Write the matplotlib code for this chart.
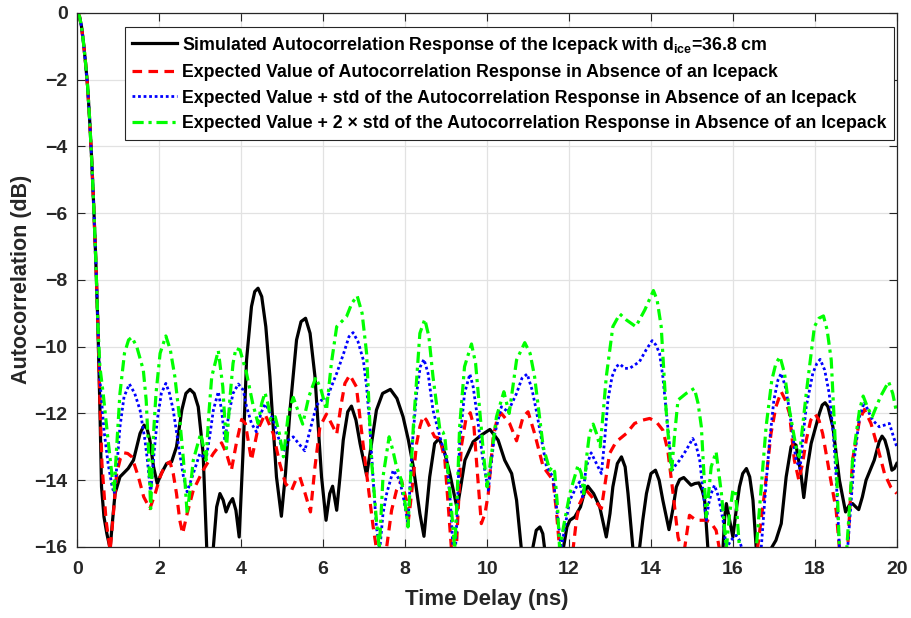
import matplotlib
matplotlib.use("Agg")
import matplotlib.pyplot as plt

# ---- data ----
sim_t = [0, 0.05, 0.1, 0.15, 0.2, 0.25, 0.3, 0.35, 0.4, 0.45, 0.5,
         0.55, 0.59, 0.65, 0.72, 0.8, 0.86, 0.92, 1.04, 1.24, 1.37, 1.53, 1.63, 1.7, 1.77, 1.86, 1.95,
         2.05, 2.18, 2.3, 2.42, 2.55, 2.65, 2.75, 2.85, 2.95, 3.07, 3.16, 3.24, 3.32, 3.4, 3.48, 3.56,
         3.63, 3.71, 3.79, 3.87, 3.95, 4.05, 4.13, 4.25, 4.33, 4.41, 4.5, 4.6, 4.7, 4.86, 4.98, 5.08,
         5.19, 5.35, 5.46, 5.57, 5.68, 5.8, 5.96, 6.07, 6.16, 6.23, 6.33, 6.41, 6.49, 6.6, 6.69, 6.8,
         6.9, 7.06, 7.18, 7.3, 7.45, 7.64, 7.8, 7.95, 8.08, 8.2, 8.36, 8.46, 8.53, 8.6, 8.72, 8.83,
         8.97, 9.09, 9.27, 9.37, 9.46, 9.66, 9.86, 10.07, 10.27, 10.43, 10.6, 10.72, 10.84, 10.98,
         11.12, 11.2, 11.29, 11.36, 11.41, 11.6, 11.86, 11.95, 12.02, 12.14, 12.28, 12.38, 12.46,
         12.6, 12.75, 12.91, 13.0, 13.07, 13.18, 13.28, 13.37, 13.44, 13.56, 13.64, 13.72, 13.8,
         13.89, 14.0, 14.11, 14.2, 14.29, 14.44, 14.53, 14.62, 14.7, 14.8, 14.9, 14.98, 15.07, 15.17,
         15.25, 15.31, 15.39, 15.58, 15.76, 15.8, 15.84, 15.92, 16.0, 16.08, 16.16, 16.24, 16.33,
         16.41, 16.49, 16.57, 16.75, 16.93, 17.05, 17.18, 17.3, 17.42, 17.48, 17.54, 17.66, 17.73,
         17.82, 17.91, 18.11, 18.18, 18.25, 18.32, 18.44, 18.6, 18.75, 18.84, 18.92, 19.0, 19.07,
         19.16, 19.25, 19.45, 19.57, 19.64, 19.71, 19.78, 19.88, 19.94, 20.0]
sim_db = [0, -0.1, -0.4, -0.9, -1.5, -2.2, -3.2, -4.4, -5.8, -7.4, -9.3,
          -11.8, -14.2, -15.1, -15.6, -16.05, -15.2, -14.4, -13.9, -13.65, -13.4, -12.6, -12.35, -12.45,
          -12.8, -13.6, -14.1, -13.8, -13.5, -13.45, -13.0, -11.9, -11.4, -11.28, -11.4, -11.8, -13.2,
          -16.1, -17.5, -16.0, -14.8, -14.4, -14.6, -14.95, -14.7, -14.55, -14.9, -15.7, -13.0, -10.4,
          -8.8, -8.35, -8.25, -8.5, -9.4, -10.9, -13.9, -15.08, -13.8, -11.9, -9.8, -9.25, -9.15, -9.6,
          -10.9, -13.9, -15.2, -14.4, -14.18, -14.9, -13.9, -12.8, -11.95, -11.78, -12.2, -12.9, -13.85,
          -12.9, -11.9, -11.4, -11.28, -11.55, -12.1, -12.8, -13.6, -15.0, -15.68, -14.8, -13.9, -12.9,
          -12.75, -13.2, -13.8, -14.85, -14.1, -13.4, -12.85, -12.65, -12.48, -12.8, -13.4, -13.8, -14.6,
          -16.1, -17.5, -16.0, -15.5, -15.4, -15.6, -16.1, -17.5, -16.05, -15.4, -15.2, -15.1, -14.8,
          -14.35, -14.18, -14.4, -14.8, -15.7, -15.0, -14.2, -13.5, -13.3, -13.6, -14.4, -16.05, -17.0,
          -16.05, -15.2, -14.4, -13.8, -13.7, -14.0, -14.6, -15.48, -14.9, -14.2, -13.98, -13.92, -14.05,
          -14.15, -14.1, -14.08, -14.3, -14.6, -16.05, -17.5, -16.0, -15.1, -14.7, -15.2, -15.7, -14.9,
          -14.2, -13.8, -13.65, -13.9, -14.6, -16.05, -17.5, -16.05, -15.8, -15.3, -13.9, -13.0, -12.9,
          -12.95, -13.8, -14.52, -13.6, -12.9, -12.0, -11.75, -11.68, -11.8, -12.4, -14.0, -14.95, -14.75,
          -14.7, -14.8, -14.88, -14.5, -14.0, -13.4, -12.85, -12.68, -12.8, -13.1, -13.7, -13.65, -13.5]

mean_t = [0, 0.05, 0.1, 0.15, 0.2, 0.25, 0.3, 0.35, 0.4, 0.45, 0.5,
          0.55, 0.6, 0.7, 0.8, 0.88, 0.96, 1.05, 1.14, 1.23, 1.33, 1.49, 1.62, 1.77, 1.9, 2.02, 2.14,
          2.26, 2.34, 2.42, 2.5, 2.57, 2.68, 2.83, 3.07, 3.32, 3.52, 3.64, 3.76, 3.88, 4.01, 4.1, 4.25,
          4.4, 4.58, 4.78, 4.94, 5.08, 5.23, 5.33, 5.43, 5.56, 5.69, 5.8, 5.92, 6.08, 6.2, 6.33, 6.43,
          6.53, 6.65, 6.81, 7.02, 7.22, 7.3, 7.42, 7.55, 7.67, 7.79, 7.91, 8.03, 8.07, 8.13, 8.2, 8.28,
          8.36, 8.44, 8.52, 8.6, 8.72, 8.85, 8.97, 9.09, 9.13, 9.19, 9.25, 9.37, 9.48, 9.59, 9.68, 9.74,
          9.86, 9.95, 10.03, 10.15, 10.25, 10.35, 10.55, 10.72, 10.88, 11.0, 11.16, 11.37, 11.55, 11.61,
          11.69, 11.77, 11.93, 12.1, 12.18, 12.26, 12.42, 12.63, 12.79, 12.99, 13.15, 13.4, 13.6, 13.8,
          13.97, 14.13, 14.29, 14.41, 14.54, 14.66, 14.74, 14.78, 14.82, 14.94, 15.1, 15.35, 15.45,
          15.59, 15.67, 16.1, 16.6, 16.77, 16.93, 17.05, 17.18, 17.28, 17.38, 17.5, 17.61, 17.7, 17.79,
          17.9, 18.01, 18.1, 18.19, 18.36, 18.52, 18.6, 18.7, 18.8, 18.92, 19.09, 19.21, 19.37, 19.53,
          19.7, 19.85, 20.0]
mean_db = [0, -0.1, -0.4, -0.9, -1.5, -2.2, -3.2, -4.4, -5.8, -7.4, -9.3,
           -11.6, -13.5, -15.2, -16.1, -15.0, -13.8, -13.35, -13.18, -13.2, -13.3, -13.9, -14.5, -14.85,
           -14.4, -13.9, -13.55, -13.45, -13.8, -14.4, -15.2, -15.6, -15.0, -14.3, -13.7, -13.2, -12.88,
           -13.2, -13.7, -12.9, -12.18, -12.3, -13.4, -12.5, -12.02, -12.6, -13.5, -14.1, -14.3, -14.0,
           -13.9, -14.4, -14.95, -13.6, -12.4, -12.02, -12.3, -12.62, -11.8, -11.1, -10.85, -11.2, -13.4,
           -15.4, -16.05, -17.0, -16.0, -14.9, -14.3, -14.0, -14.6, -15.3, -14.7, -13.9, -12.9, -12.4,
           -12.08, -12.2, -12.4, -12.7, -12.75, -13.4, -15.4, -16.05, -16.5, -16.05, -13.0, -12.2, -11.98,
           -12.4, -13.4, -15.3, -15.0, -14.4, -12.7, -12.15, -12.0, -12.3, -12.82, -12.1, -11.95, -12.6,
           -13.6, -13.9, -14.0, -14.9, -16.05, -17.0, -16.05, -15.2, -14.7, -14.3, -14.6, -14.85, -13.2,
           -12.85, -12.6, -12.3, -12.2, -12.15, -12.25, -12.5, -13.1, -14.4, -15.7, -16.05, -16.3, -16.05,
           -15.05, -15.2, -15.2, -15.25, -15.5, -16.05, -17.5, -16.05, -14.4, -12.6, -11.8, -11.35, -11.6,
           -12.0, -13.4, -14.0, -13.5, -12.8, -12.2, -12.02, -12.2, -12.6, -13.8, -14.9, -16.05, -17.0,
           -16.05, -13.4, -12.2, -11.88, -12.3, -13.0, -13.8, -14.2, -14.4]

std1_t = [0, 0.05, 0.1, 0.15, 0.2, 0.25, 0.3, 0.35, 0.4, 0.45, 0.5,
          0.55, 0.65, 0.75, 0.85, 0.9, 0.97, 1.04, 1.14, 1.27, 1.4, 1.53, 1.65, 1.71, 1.79, 1.87, 1.95,
          2.05, 2.16, 2.25, 2.34, 2.5, 2.59, 2.68, 2.83, 2.99, 3.07, 3.14, 3.24, 3.32, 3.44, 3.52, 3.6,
          3.7, 3.8, 3.93, 4.05, 4.13, 4.25, 4.37, 4.48, 4.58, 4.68, 4.78, 4.9, 5.03, 5.15, 5.27, 5.4,
          5.55, 5.7, 5.84, 5.96, 6.08, 6.2, 6.33, 6.5, 6.63, 6.73, 6.85, 6.98, 7.06, 7.14, 7.22, 7.3,
          7.38, 7.46, 7.55, 7.71, 7.87, 7.97, 8.07, 8.17, 8.28, 8.37, 8.46, 8.56, 8.68, 8.85, 9.01, 9.1,
          9.17, 9.22, 9.27, 9.33, 9.45, 9.58, 9.66, 9.74, 9.9, 10.03, 10.11, 10.19, 10.35, 10.51, 10.72,
          10.85, 10.98, 11.1, 11.2, 11.45, 11.61, 11.73, 11.81, 11.9, 12.02, 12.18, 12.26, 12.33, 12.42,
          12.54, 12.67, 12.79, 12.87, 12.95, 13.05, 13.15, 13.24, 13.36, 13.48, 13.6, 13.72, 13.88, 14.03,
          14.12, 14.21, 14.29, 14.37, 14.45, 14.52, 14.6, 14.7, 14.86, 15.02, 15.1, 15.19, 15.27, 15.35,
          15.41, 15.47, 15.55, 15.65, 15.76, 15.84, 15.95, 16.08, 16.16, 16.22, 16.45, 16.69, 16.79,
          16.89, 17.0, 17.1, 17.18, 17.28, 17.38, 17.54, 17.64, 17.72, 17.79, 17.95, 18.05, 18.13, 18.24,
          18.35, 18.45, 18.52, 18.6, 18.7, 18.8, 18.96, 19.09, 19.21, 19.31, 19.41, 19.57, 19.7, 19.82,
          19.92, 20.0]
std1_db = [0, -0.1, -0.4, -0.9, -1.5, -2.2, -3.2, -4.4, -5.8, -7.4, -9.3,
           -11.0, -12.5, -13.5, -14.2, -14.4, -13.5, -12.4, -11.5, -11.12, -11.4, -11.9, -12.8, -13.4,
           -14.4, -13.2, -12.2, -11.4, -11.1, -11.4, -11.9, -13.2, -13.9, -14.35, -13.8, -13.2, -13.3,
           -13.4, -12.6, -11.9, -11.35, -11.9, -12.8, -12.0, -11.4, -11.12, -11.3, -11.8, -12.3, -12.55,
           -12.0, -11.72, -11.9, -12.2, -12.7, -13.15, -12.8, -12.7, -12.9, -13.12, -12.4, -11.75, -11.6,
           -11.6, -11.2, -10.8, -10.2, -9.7, -9.58, -9.85, -10.4, -11.2, -12.4, -14.0, -15.4, -16.1, -15.0,
           -14.4, -13.7, -14.0, -14.6, -15.3, -13.0, -11.4, -10.6, -10.38, -10.8, -11.9, -12.7, -13.4,
           -14.6, -16.05, -16.3, -15.0, -12.9, -11.4, -10.82, -11.2, -11.9, -13.4, -14.3, -13.4, -12.6,
           -11.8, -11.95, -11.4, -10.95, -10.82, -11.3, -11.9, -13.6, -13.9, -15.2, -16.05, -15.4, -14.6,
           -14.2, -14.05, -14.5, -13.6, -13.18, -13.5, -13.8, -12.8, -11.6, -10.9, -10.6, -10.52, -10.65,
           -10.65, -10.55, -10.45, -10.1, -9.82, -9.95, -10.2, -10.9, -11.9, -12.9, -13.7, -13.55, -13.4,
           -13.1, -12.75, -12.95, -13.4, -14.3, -15.2, -14.7, -14.4, -14.15, -14.5, -15.2, -16.05, -15.8,
           -15.65, -15.8, -16.05, -17.0, -16.05, -14.4, -12.9, -11.6, -11.0, -10.8, -11.2, -11.9, -13.4,
           -13.65, -12.6, -11.8, -10.8, -10.5, -10.38, -10.7, -11.4, -12.6, -13.9, -16.05, -17.0, -16.05,
           -13.4, -12.1, -11.65, -11.95, -12.2, -12.4, -12.35, -12.3, -12.7, -13.0]

std2_t = [0, 0.05, 0.1, 0.15, 0.2, 0.25, 0.3, 0.35, 0.4, 0.45, 0.5,
          0.55, 0.63, 0.75, 0.85, 0.9, 0.95, 1.04, 1.15, 1.25, 1.33, 1.45, 1.61, 1.68, 1.73, 1.79, 1.85,
          1.92, 2.02, 2.16, 2.27, 2.38, 2.5, 2.59, 2.68, 2.76, 2.83, 3.01, 3.08, 3.14, 3.21, 3.28, 3.44,
          3.55, 3.64, 3.72, 3.8, 3.87, 3.97, 4.13, 4.28, 4.41, 4.5, 4.58, 4.65, 4.72, 4.83, 4.93, 5.03,
          5.15, 5.27, 5.38, 5.5, 5.65, 5.82, 5.95, 6.08, 6.2, 6.33, 6.45, 6.57, 6.7, 6.83, 6.95, 7.06,
          7.18, 7.3, 7.37, 7.46, 7.61, 7.7, 7.79, 7.91, 8.0, 8.07, 8.2, 8.36, 8.48, 8.58, 8.68, 8.85,
          8.92, 8.97, 9.05, 9.14, 9.21, 9.27, 9.33, 9.45, 9.62, 9.72, 9.82, 9.92, 10.0, 10.1, 10.23,
          10.41, 10.54, 10.64, 10.72, 10.92, 11.05, 11.16, 11.37, 11.53, 11.59, 11.65, 11.72, 11.77,
          11.88, 12.02, 12.22, 12.3, 12.36, 12.43, 12.5, 12.59, 12.67, 12.76, 12.84, 12.91, 13.07, 13.24,
          13.4, 13.63, 13.85, 14.06, 14.15, 14.25, 14.37, 14.5, 14.58, 14.66, 14.86, 15.06, 15.15, 15.23,
          15.35, 15.47, 15.59, 15.72, 15.84, 15.92, 16.0, 16.06, 16.16, 16.36, 16.57, 16.81, 16.95, 17.05,
          17.15, 17.26, 17.38, 17.54, 17.62, 17.79, 17.99, 18.1, 18.21, 18.3, 18.4, 18.52, 18.6, 18.7,
          18.78, 18.92, 19.09, 19.18, 19.28, 19.4, 19.6, 19.8, 19.9, 20.0]
std2_db = [0, -0.1, -0.4, -0.9, -1.5, -2.2, -3.2, -4.4, -5.8, -7.4, -9.3,
           -10.6, -11.4, -12.8, -13.9, -14.3, -13.2, -11.4, -10.2, -9.8, -9.72, -10.0, -10.7, -11.6,
           -12.9, -14.85, -12.8, -11.4, -10.2, -9.68, -10.1, -10.9, -12.2, -13.4, -15.0, -14.2, -13.4,
           -12.6, -13.0, -13.4, -12.0, -10.9, -10.12, -11.2, -13.05, -11.6, -10.5, -10.05, -10.1, -10.8,
           -11.7, -12.3, -11.7, -11.38, -11.7, -12.2, -12.1, -12.6, -13.3, -12.0, -11.52, -11.9, -12.32,
           -11.5, -10.92, -11.3, -11.9, -10.5, -9.4, -9.25, -9.1, -8.7, -8.48, -9.0, -10.2, -13.4, -15.2,
           -16.05, -13.9, -12.7, -13.1, -13.6, -14.0, -14.7, -15.4, -12.4, -9.6, -9.18, -9.7, -10.9, -12.5,
           -12.55, -12.7, -13.8, -15.0, -16.05, -14.5, -12.4, -10.6, -9.92, -10.5, -11.9, -13.3, -14.2,
           -13.3, -12.1, -11.35, -12.0, -11.1, -10.4, -9.88, -10.2, -10.9, -13.0, -13.7, -13.6, -13.75,
           -14.8, -16.05, -15.3, -14.4, -13.55, -13.8, -14.4, -13.3, -12.6, -12.32, -12.6, -13.0, -11.9,
           -10.9, -9.4, -9.02, -9.2, -9.4, -8.9, -8.32, -8.6, -9.4, -11.9, -13.8, -12.6, -11.6, -11.4,
           -11.25, -11.7, -12.4, -15.1, -13.6, -13.15, -14.4, -16.05, -15.0, -14.3, -14.3, -16.05, -17.0,
           -16.05, -12.4, -11.0, -10.5, -10.3, -10.8, -11.9, -13.0, -13.3, -11.4, -9.4, -9.15, -9.08, -9.5,
           -10.4, -13.4, -16.05, -17.0, -16.05, -13.4, -11.9, -11.48, -11.8, -12.1, -11.5, -11.05, -11.4,
           -12.0]

labels = [
    r'Simulated Autocorrelation Response of the Icepack with d$_{\mathregular{ice}}$=36.8 cm',
    'Expected Value of Autocorrelation Response in Absence of an Icepack',
    'Expected Value + std of the Autocorrelation Response in Absence of an Icepack',
    'Expected Value + 2 \u00d7 std of the Autocorrelation Response in Absence of an Icepack',
]

plt.rcParams['font.family'] = ['Liberation Sans', 'DejaVu Sans']
plt.rcParams['font.weight'] = 'bold'
plt.rcParams['mathtext.default'] = 'regular'

fig = plt.figure(figsize=(9.11, 6.18), dpi=100)
ax = fig.add_axes([0.0849, 0.1149, 0.8995, 0.8645])

ax.plot(sim_t, sim_db, color='black', lw=2.3, label=labels[0])
ax.plot(mean_t, mean_db, color='red', lw=2.3, ls=(0, (3, 2)), label=labels[1])
ax.plot(std1_t, std1_db, color='blue', lw=2.0, ls=(0, (1, 1)), label=labels[2])
ax.plot(std2_t, std2_db, color=(0, 1, 0), lw=2.3, ls=(0, (3.5, 1.5, 1, 1.5)), label=labels[3])

ax.set_xlim(0, 20)
ax.set_ylim(-16, 0)
ax.set_xticks(range(0, 21, 2))
ax.set_yticks(range(-16, 1, 2))
ax.grid(True, color='#e2e2e2', lw=0.9)
ax.set_axisbelow(True)
ax.tick_params(direction='in', length=6, width=0.8, top=True, right=True,
               labelsize=14, colors='#262626')
ax.tick_params(axis='x', pad=10)
ax.tick_params(axis='y', pad=7)
for lab in ax.get_xticklabels() + ax.get_yticklabels():
    lab.set_fontweight('bold')
for sp in ax.spines.values():
    sp.set_color('#262626')
    sp.set_linewidth(0.9)

ax.set_xlabel('Time Delay (ns)', fontsize=16, fontweight='bold', color='#262626', labelpad=8)
ax.set_ylabel('Autocorrelation (dB)', fontsize=15.5, fontweight='bold', color='#262626', labelpad=2)

leg = ax.legend(loc='upper right', bbox_to_anchor=(0.9967, 0.973), borderaxespad=0,
                fancybox=False, framealpha=1, edgecolor='#262626',
                prop={'weight': 'bold', 'size': 12.8}, handlelength=2.5, handletextpad=0.3,
                labelspacing=0.48, borderpad=0.42)
leg.get_frame().set_linewidth(0.8)

plt.savefig('out.png', dpi=100)
